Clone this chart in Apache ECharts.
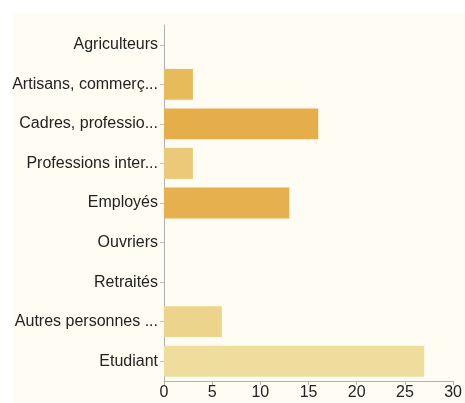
<!DOCTYPE html>
<html>
<head>
<meta charset="utf-8">
<script src="https://cdn.jsdelivr.net/npm/echarts@6/dist/echarts.min.js"></script>
<style>
html,body{margin:0;padding:0;background:#ffffff;}
#panel{position:absolute;left:13px;top:14px;width:452px;height:389px;background:#fffdf3;}
#chart{position:absolute;left:0;top:0;width:465px;height:403px;}
</style>
</head>
<body>
<div id="panel"></div>
<div id="chart"></div>
<script>
const categories = ["Agriculteurs", "Artisans, commerç...", "Cadres, professio...", "Professions inter...", "Employés", "Ouvriers", "Retraités", "Autres personnes ...", "Etudiant"];
const values = [0, 3, 16, 3, 13, 0, 0, 6, 27];
const barColors = ["#e8bb5a", "#e8bb5a", "#e6ae4b", "#ebc978", "#e6b04e", "#e6b04e", "#e6b04e", "#edd48c", "#efdd9e"];
const xTicks = [0, 5, 10, 15, 20, 25, 30];

const chart = echarts.init(document.getElementById('chart'), null, {renderer: 'canvas'});
chart.setOption({
  backgroundColor: 'transparent',
  animation: false,
  grid: {left: 164, right: 7, top: 25, bottom: 22, containLabel: false},
  xAxis: {
    type: 'value',
    min: xTicks[0],
    max: xTicks[xTicks.length - 1],
    interval: 5,
    axisLine: {show: true, lineStyle: {color: '#b0b0b0', width: 1}},
    axisTick: {show: true, length: 4, lineStyle: {color: '#b0b0b0'}},
    splitLine: {show: false},
    axisLabel: {color: '#222', fontSize: 16, fontFamily: 'Liberation Sans, Arial, sans-serif', margin: 4}
  },
  yAxis: {
    type: 'category',
    inverse: true,
    data: categories,
    axisLine: {show: true, lineStyle: {color: '#b0b0b0', width: 1}},
    axisTick: {show: true, alignWithLabel: true, length: 4, lineStyle: {color: '#c0c0c0'}},
    axisLabel: {color: '#222', fontSize: 16, fontFamily: 'Liberation Sans, Arial, sans-serif', margin: 6}
  },
  series: [{
    type: 'bar',
    data: values.map((v, i) => ({value: v, itemStyle: {color: barColors[i]}})),
    barCategoryGap: '22%'
  }]
});
</script>
</body>
</html>
